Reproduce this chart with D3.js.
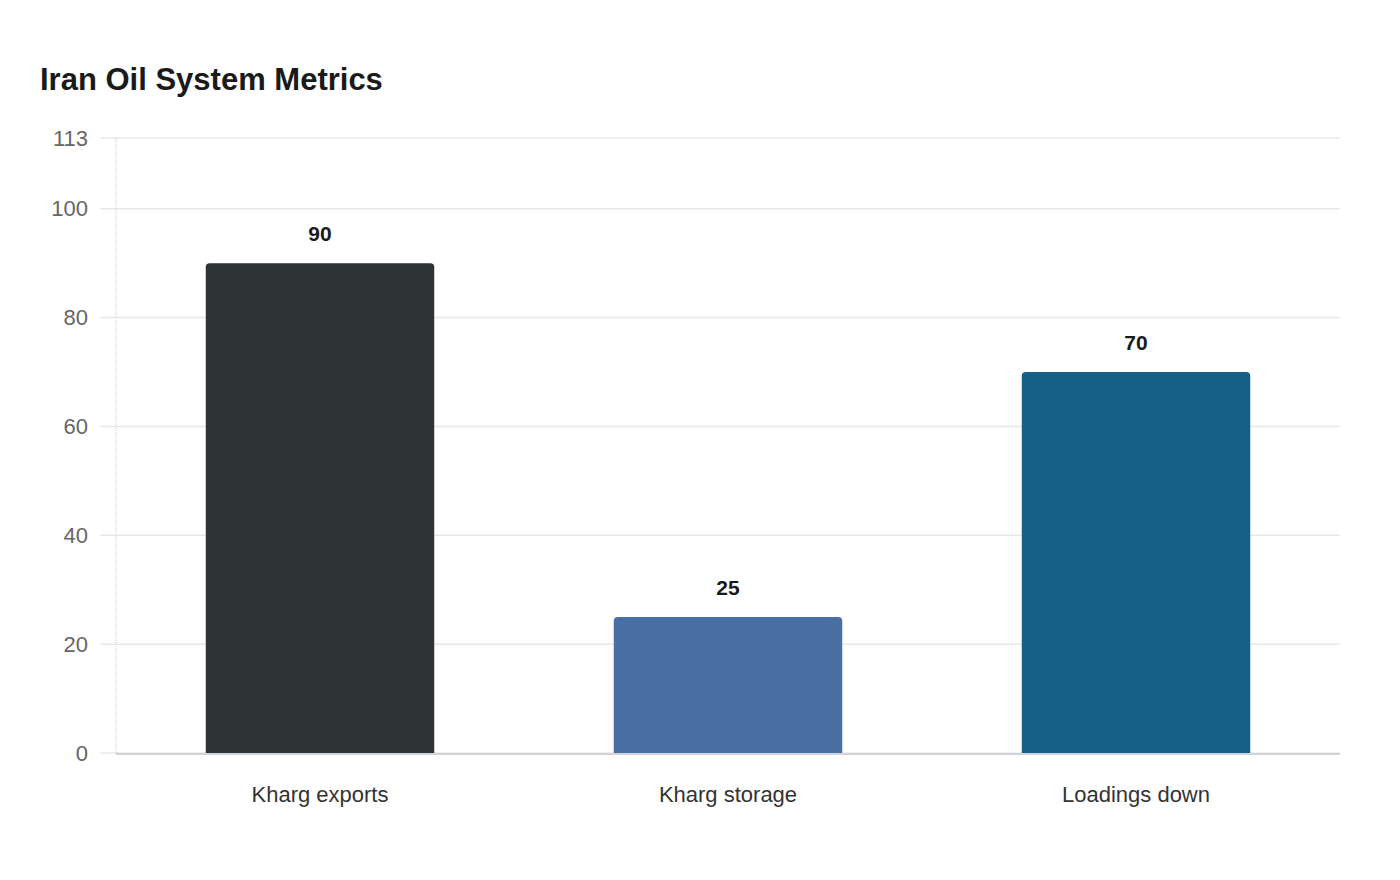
<!DOCTYPE html>
<html>
<head>
<meta charset="utf-8">
<script src="https://cdn.jsdelivr.net/npm/d3@7"></script>
<style>
  body { margin: 0; background: #fff; font-family: "Liberation Sans", Arial, sans-serif; }
</style>
</head>
<body>
<svg id="chart"></svg>
<script>
var categories = ["Kharg exports", "Kharg storage", "Loadings down"];
var values = [90, 25, 70];
var barColors = ["#2d3436", "#4a6fa5", "#166088"];
var yTicks = [0, 20, 40, 60, 80, 100, 113];
var yMax = 113;

var width = 1400, height = 880;
var margin = { top: 138, right: 60, bottom: 127, left: 116 };
var plotW = width - margin.left - margin.right;
var plotH = height - margin.top - margin.bottom;

var svg = d3.select("#chart")
  .attr("width", width)
  .attr("height", height);

svg.append("text")
  .attr("x", 40)
  .attr("y", 90)
  .style("font-size", "31px")
  .style("font-weight", "bold")
  .style("fill", "#1a1a1a")
  .text("Iran Oil System Metrics");

var g = svg.append("g")
  .attr("transform", `translate(${margin.left}, ${margin.top})`);

var x = d3.scaleBand()
  .domain(categories)
  .range([0, plotW])
  .paddingInner(0.44)
  .paddingOuter(0.22);

var y = d3.scaleLinear()
  .domain([0, yMax])
  .range([plotH, 0]);

// gridlines
g.append("g")
  .selectAll("line")
  .data(yTicks)
  .enter().append("line")
    .attr("x1", -16)
    .attr("x2", plotW)
    .attr("y1", d => y(d))
    .attr("y2", d => y(d))
    .style("stroke", "#e8e8e8")
    .style("stroke-width", 1.5);

// y axis labels
g.append("g")
  .selectAll("text")
  .data(yTicks)
  .enter().append("text")
    .attr("x", -28)
    .attr("y", d => y(d))
    .attr("dy", "0.35em")
    .attr("text-anchor", "end")
    .style("font-size", "22px")
    .style("fill", "#666")
    .text(d => d);

// dotted y axis line
g.append("line")
  .attr("x1", 0).attr("x2", 0)
  .attr("y1", 0).attr("y2", plotH)
  .style("stroke", "#ccc")
  .style("stroke-width", 1)
  .style("stroke-dasharray", "1,1");

// bars with rounded top
var r = 4;
function barPath(d, i) {
  var x0 = x(categories[i]), w = x.bandwidth();
  var top = y(d), bot = y(0);
  return `M${x0},${bot} L${x0},${top + r} Q${x0},${top} ${x0 + r},${top} ` +
    `L${x0 + w - r},${top} Q${x0 + w},${top} ${x0 + w},${top + r} L${x0 + w},${bot} Z`;
}

g.append("g")
  .selectAll("path")
  .data(values)
  .enter().append("path")
    .attr("d", barPath)
    .style("fill", (d, i) => barColors[i]);

// value labels
g.append("g")
  .selectAll("text")
  .data(values)
  .enter().append("text")
    .attr("x", (d, i) => x(categories[i]) + x.bandwidth() / 2)
    .attr("y", d => y(d) - 22)
    .attr("text-anchor", "middle")
    .style("font-size", "21px")
    .style("font-weight", "bold")
    .style("fill", "#1a1a1a")
    .text(d => d);

// baseline
g.append("line")
  .attr("x1", 0).attr("x2", plotW)
  .attr("y1", plotH + 1).attr("y2", plotH + 1)
  .style("stroke", "#d0d4d8")
  .style("stroke-width", 2);

// category labels
g.append("g")
  .selectAll("text")
  .data(categories)
  .enter().append("text")
    .attr("x", d => x(d) + x.bandwidth() / 2)
    .attr("y", plotH + 49)
    .attr("text-anchor", "middle")
    .style("font-size", "22px")
    .style("fill", "#333")
    .text(d => d);
</script>
</body>
</html>
